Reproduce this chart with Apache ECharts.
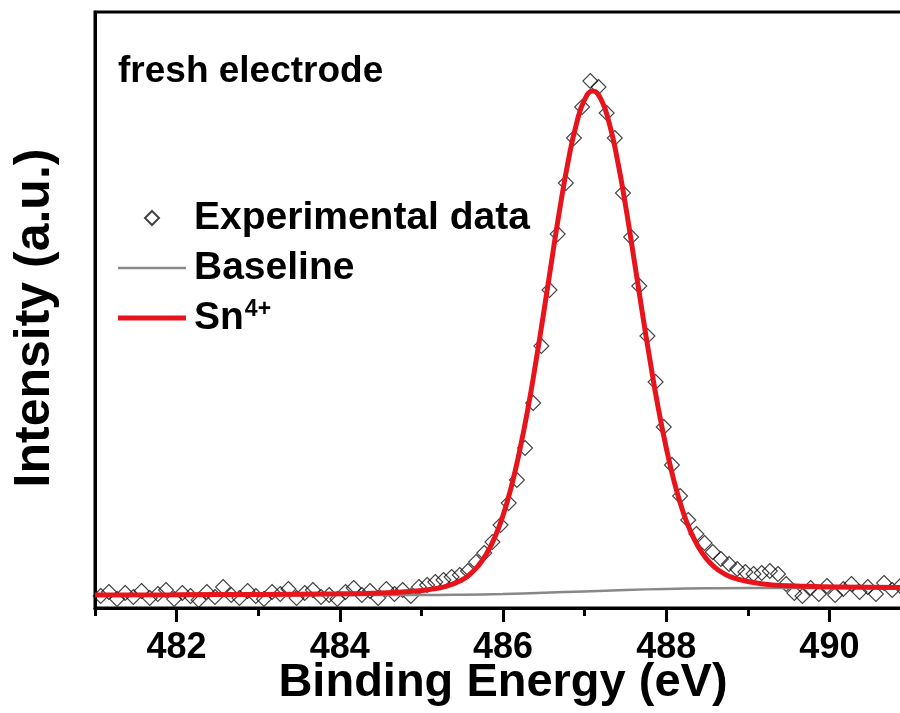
<!DOCTYPE html>
<html>
<head>
<meta charset="utf-8">
<script src="https://cdn.jsdelivr.net/npm/echarts@6/dist/echarts.min.js"></script>
<style>html,body{margin:0;padding:0;background:#fff}#c{width:900px;height:713px}</style>
</head>
<body>
<div id="c"></div>
<script>
// ---- data ----
const expEnergy = [
  481.07,481.17,481.27,481.37,481.47,481.57,481.67,481.77,481.87,481.97,
  482.07,482.17,482.27,482.37,482.47,482.57,482.67,482.77,482.87,482.97,
  483.07,483.17,483.27,483.37,483.47,483.57,483.67,483.77,483.87,483.97,
  484.07,484.17,484.27,484.37,484.47,484.57,484.67,484.77,484.87,484.97,
  485.07,485.17,485.27,485.37,485.47,485.57,485.67,485.77,485.87,485.97,
  486.07,486.17,486.27,486.37,486.47,486.57,486.67,486.77,486.87,486.97,
  487.07,487.17,487.27,487.37,487.47,487.57,487.67,487.77,487.87,487.97,
  488.07,488.17,488.27,488.37,488.47,488.57,488.67,488.77,488.87,488.97,
  489.07,489.17,489.27,489.37,489.47,489.57,489.67,489.77,489.87,489.97,
  490.07,490.17,490.27,490.37,490.47,490.57,490.67,490.77,490.87
];
const expIntensity = [
  12,16,9,15,11,17,10,14,18,9,
  15,12,8,16,11,21,13,10,17,12,
  9,16,14,19,10,15,18,11,13,9,
  16,20,13,17,10,19,14,18,12,21,
  23,26,28,31,33,37,46,55,66,83,
  105,128,160,205,262,318,374,425,470,501,
  527,521,495,470,415,371,322,272,226,181,
  143,112,88,74,65,56,49,44,39,36,
  34,35,37,34,24,15,12,20,14,22,
  13,19,24,16,21,14,25,18,22
];
const fitEnergy = [481,482,483,484,484.5,484.9,485.1,485.3,485.5,485.6,485.7,485.8,485.9,486.0,486.1,486.2,486.3,486.4,486.5,486.6,486.7,486.8,486.9,487.0,487.1,487.2,487.3,487.4,487.5,487.6,487.7,487.8,487.9,488.0,488.1,488.2,488.3,488.4,488.5,488.6,488.7,488.8,489.0,489.3,489.6,490.1,491];
const fitIntensity = [13.1,13.3,13.6,14.2,15.0,16.8,18.5,21.6,28.2,34.1,42.5,54.4,70.8,92.5,120.7,155.7,196.9,244.6,296.0,349.2,401.1,447.3,484.2,508.3,516.9,508.9,485.4,449.0,403.3,351.9,299.2,248.3,201.1,160.4,125.7,97.8,76.3,60.2,48.6,40.4,34.8,30.9,26.5,23.0,22.0,21.0,20.5];
const baseEnergy = [481,485,485.5,486,486.5,487,487.5,488,488.5,489,491];
const baseIntensity = [13,13,13.3,14,15.2,16.6,18,19.1,19.7,20,20];
const majorTicks = [482,484,486,488,490];
const minorTicks = [481,483,485,487,489,491];
const seriesNames = ['Experimental data','Baseline','Sn4+'];

const FONT = '"Liberation Sans", Arial, sans-serif';
const zip = (a,b) => a.map((v,i)=>[v,b[i]]);

const chart = echarts.init(document.getElementById('c'), null, {renderer:'canvas'});
chart.setOption({
  backgroundColor:'#fff',
  animation:false,
  title:{text:'fresh electrode', left:113, top:48,
    textStyle:{fontFamily:FONT, fontWeight:'bold', fontSize:37, color:'#000'}},
  legend:{
    orient:'vertical', left:113, top:193,
    itemWidth:68, itemHeight:14, itemGap:10, symbolKeepAspect:true,
    data:[
      {name:seriesNames[0], icon:'path://M7,0L14,7L7,14L0,7Z'},
      {name:seriesNames[1], icon:'path://M0,0H68V2.5H0Z'},
      {name:seriesNames[2], icon:'path://M0,0H68V5H0Z'}
    ],
    formatter:function(n){return n==='Sn4+' ? '{n|Sn}{s|4+}' : n;},
    textStyle:{fontFamily:FONT, fontWeight:'bold', fontSize:39, color:'#000', lineHeight:40, padding:[0,0,0,3],
      rich:{
        n:{fontFamily:FONT, fontWeight:'bold', fontSize:39, color:'#000', lineHeight:40},
        s:{fontFamily:FONT, fontWeight:'bold', fontSize:23, color:'#000', lineHeight:23, verticalAlign:'top', padding:[0,0,0,1]}
      }}
  },
  grid:{left:95, right:-11, top:12, bottom:105, outerBoundsMode:'none', containLabel:false,
    show:true, borderColor:'#000', borderWidth:3, backgroundColor:'#fff'},
  xAxis:[{
    type:'value', min:481, max:491, position:'bottom',
    name:'Binding Energy (eV)', nameLocation:'middle', nameGap:52, nameMoveOverlap:false,
    nameTextStyle:{fontFamily:FONT, fontWeight:'bold', fontSize:47, color:'#000'},
    axisLine:{show:true, onZero:false, lineStyle:{color:'#000', width:3}},
    axisTick:{show:true, customValues:majorTicks, length:14, lineStyle:{color:'#000', width:3}},
    axisLabel:{customValues:majorTicks, fontFamily:FONT, fontWeight:'bold', fontSize:36, color:'#000', margin:22},
    splitLine:{show:false}
  },{
    type:'value', min:481, max:491, position:'top', offset:-596,
    axisLine:{show:false, onZero:false},
    axisTick:{show:true, inside:true, customValues:minorTicks, length:8, lineStyle:{color:'#000', width:3}},
    axisLabel:{show:false}, splitLine:{show:false}
  }],
  yAxis:{
    type:'value', min:0, max:596,
    name:'Intensity (a.u.)', nameLocation:'middle', nameGap:35, nameRotate:90, nameMoveOverlap:false,
    nameTextStyle:{fontFamily:FONT, fontWeight:'bold', fontSize:50, color:'#000', padding:[0,16,0,0]},
    axisLine:{show:true, lineStyle:{color:'#000', width:3}},
    axisTick:{show:false}, axisLabel:{show:false}, splitLine:{show:false}
  },
  series:[
    {name:seriesNames[0], type:'scatter', xAxisIndex:0, data:zip(expEnergy, expIntensity),
      symbol:'diamond', symbolSize:15,
      itemStyle:{color:'rgba(255,255,255,0)', borderColor:'#111', borderWidth:1.1}},
    {name:seriesNames[1], type:'line', xAxisIndex:0, data:zip(baseEnergy, baseIntensity),
      symbol:'none', smooth:true, lineStyle:{color:'#888', width:2.5}, itemStyle:{color:'#888'}},
    {name:seriesNames[2], type:'line', xAxisIndex:0, data:zip(fitEnergy, fitIntensity),
      symbol:'none', smooth:true, lineStyle:{color:'#e8141b', width:5}, itemStyle:{color:'#e8141b'}}
  ]
});
</script>
</body>
</html>
